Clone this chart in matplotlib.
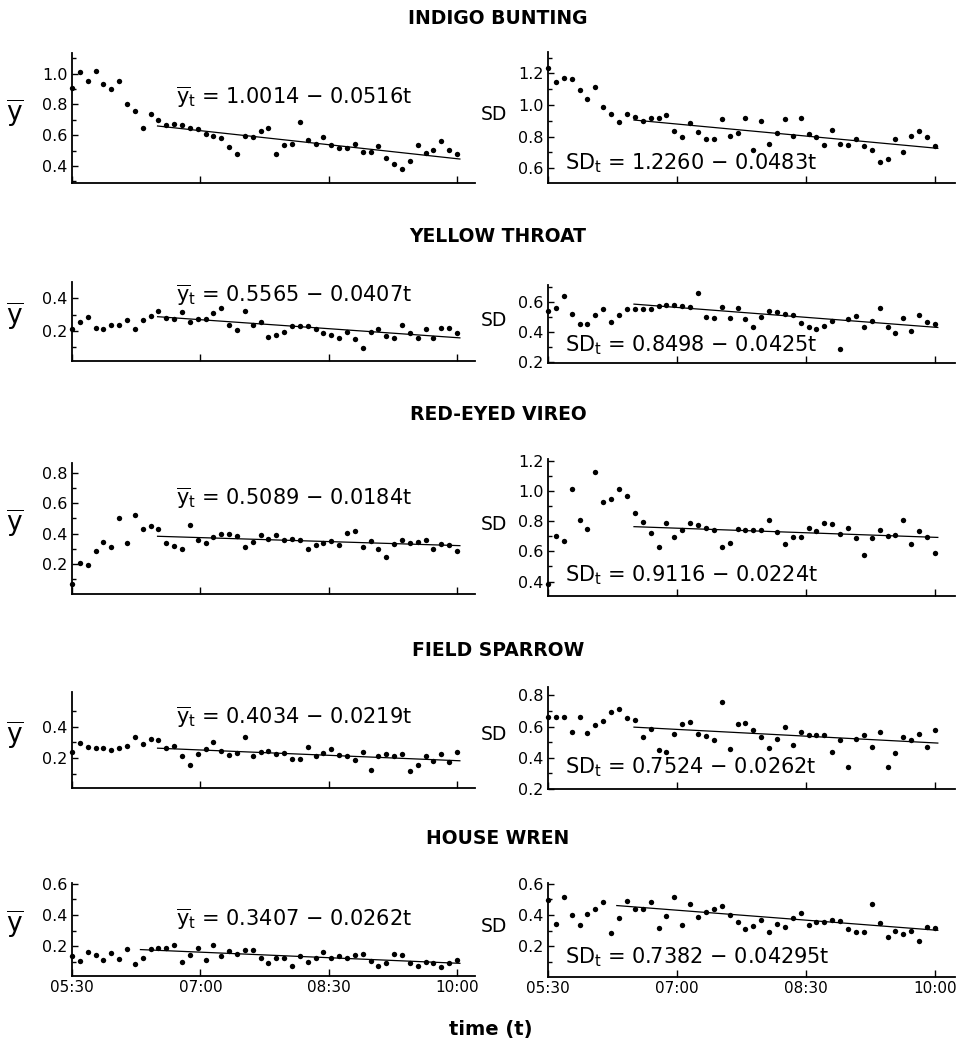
import numpy as np
import matplotlib.pyplot as plt

plt.rcParams['font.family'] = ['DejaVu Sans']
plt.rcParams['mathtext.fontset'] = 'dejavusans'
plt.rcParams['mathtext.default'] = 'regular'

W, H = 958, 1047

# minutes after 05:30 (50 samples between 05:30 and 10:00)
minutes = np.linspace(0, 270, 50)
tick_minutes = [0, 90, 180, 270]
tick_labels = ["05:30", "07:00", "08:30", "10:00"]

species = ["INDIGO BUNTING", "YELLOW THROAT", "RED-EYED VIREO",
           "FIELD SPARROW", "HOUSE WREN"]

indigo_mean = [0.91, 1.01, 0.955, 1.02, 0.935, 0.90, 0.955, 0.80, 0.755, 0.65,
               0.735, 0.70, 0.665, 0.675, 0.665, 0.65, 0.64, 0.605, 0.595, 0.585,
               0.525, 0.48, 0.595, 0.59, 0.63, 0.65, 0.475, 0.535, 0.545, 0.685,
               0.57, 0.545, 0.59, 0.535, 0.52, 0.515, 0.545, 0.49, 0.49, 0.53,
               0.45, 0.415, 0.38, 0.43, 0.535, 0.485, 0.505, 0.565, 0.505, 0.48]
indigo_sd = [1.236, 1.147, 1.168, 1.164, 1.095, 1.036, 1.112, 0.99, 0.94, 0.895,
             0.94, 0.925, 0.90, 0.92, 0.92, 0.937, 0.836, 0.796, 0.884, 0.827,
             0.783, 0.783, 0.91, 0.806, 0.825, 0.916, 0.716, 0.90, 0.754, 0.825,
             0.91, 0.806, 0.92, 0.817, 0.796, 0.747, 0.842, 0.752, 0.747, 0.783,
             0.743, 0.716, 0.642, 0.66, 0.783, 0.70, 0.804, 0.838, 0.80, 0.743]
yellow_mean = [0.21, 0.252, 0.287, 0.22, 0.21, 0.235, 0.235, 0.266, 0.214, 0.266,
               0.293, 0.324, 0.28, 0.272, 0.318, 0.252, 0.272, 0.272, 0.311, 0.338,
               0.239, 0.204, 0.324, 0.235, 0.256, 0.163, 0.173, 0.19, 0.229, 0.229,
               0.229, 0.214, 0.184, 0.173, 0.159, 0.19, 0.153, 0.097, 0.19, 0.21,
               0.169, 0.157, 0.239, 0.184, 0.159, 0.214, 0.157, 0.219, 0.219, 0.184]
yellow_sd = [0.54, 0.56, 0.638, 0.518, 0.451, 0.451, 0.511, 0.551, 0.462, 0.511,
             0.551, 0.551, 0.551, 0.549, 0.571, 0.578, 0.578, 0.571, 0.567, 0.66,
             0.50, 0.489, 0.562, 0.489, 0.56, 0.482, 0.433, 0.496, 0.538, 0.533,
             0.516, 0.511, 0.456, 0.433, 0.416, 0.438, 0.473, 0.289, 0.482, 0.507,
             0.433, 0.473, 0.56, 0.429, 0.389, 0.493, 0.404, 0.511, 0.462, 0.449]
vireo_mean = [0.067, 0.204, 0.193, 0.282, 0.344, 0.311, 0.504, 0.338, 0.522, 0.427,
              0.449, 0.433, 0.338, 0.316, 0.298, 0.456, 0.356, 0.338, 0.378, 0.40,
              0.40, 0.382, 0.311, 0.344, 0.393, 0.362, 0.389, 0.356, 0.367, 0.36,
              0.298, 0.327, 0.34, 0.349, 0.322, 0.404, 0.418, 0.311, 0.351, 0.298,
              0.244, 0.329, 0.36, 0.34, 0.344, 0.356, 0.30, 0.329, 0.327, 0.284]
vireo_sd = [0.385, 0.703, 0.67, 1.015, 0.809, 0.747, 1.125, 0.927, 0.949, 1.011,
            0.963, 0.851, 0.796, 0.721, 0.631, 0.785, 0.697, 0.743, 0.785, 0.776,
            0.754, 0.741, 0.631, 0.655, 0.747, 0.741, 0.741, 0.741, 0.809, 0.725,
            0.648, 0.692, 0.697, 0.754, 0.732, 0.785, 0.78, 0.714, 0.752, 0.686,
            0.576, 0.686, 0.743, 0.703, 0.708, 0.807, 0.648, 0.732, 0.692, 0.589]
sparrow_mean = [0.238, 0.295, 0.269, 0.267, 0.263, 0.253, 0.263, 0.28, 0.337, 0.291,
                0.32, 0.312, 0.267, 0.274, 0.215, 0.158, 0.227, 0.257, 0.305, 0.242,
                0.217, 0.232, 0.331, 0.215, 0.236, 0.242, 0.225, 0.232, 0.194, 0.194,
                0.269, 0.211, 0.232, 0.259, 0.221, 0.211, 0.185, 0.238, 0.126, 0.215,
                0.225, 0.211, 0.225, 0.12, 0.154, 0.215, 0.179, 0.227, 0.173, 0.238]
sparrow_sd = [0.664, 0.664, 0.664, 0.568, 0.664, 0.557, 0.611, 0.636, 0.696, 0.713,
              0.653, 0.643, 0.536, 0.583, 0.451, 0.44, 0.553, 0.617, 0.632, 0.553,
              0.54, 0.515, 0.755, 0.457, 0.615, 0.621, 0.579, 0.536, 0.462, 0.521,
              0.594, 0.483, 0.562, 0.547, 0.547, 0.547, 0.436, 0.511, 0.34, 0.519,
              0.543, 0.466, 0.564, 0.338, 0.43, 0.536, 0.515, 0.553, 0.468, 0.579]
wren_mean = [0.139, 0.107, 0.164, 0.143, 0.112, 0.154, 0.116, 0.185, 0.084, 0.122,
             0.181, 0.192, 0.192, 0.211, 0.097, 0.143, 0.192, 0.112, 0.211, 0.139,
             0.168, 0.149, 0.175, 0.179, 0.126, 0.091, 0.126, 0.122, 0.076, 0.139,
             0.101, 0.122, 0.164, 0.122, 0.137, 0.122, 0.143, 0.149, 0.107, 0.076,
             0.091, 0.149, 0.143, 0.095, 0.074, 0.101, 0.091, 0.069, 0.095, 0.112]
wren_sd = [0.495, 0.341, 0.516, 0.398, 0.335, 0.408, 0.436, 0.484, 0.284, 0.379,
           0.493, 0.442, 0.442, 0.482, 0.32, 0.394, 0.516, 0.335, 0.472, 0.387,
           0.419, 0.436, 0.461, 0.40, 0.358, 0.314, 0.331, 0.366, 0.295, 0.341,
           0.324, 0.383, 0.415, 0.335, 0.358, 0.358, 0.366, 0.362, 0.314, 0.293,
           0.293, 0.474, 0.347, 0.261, 0.299, 0.278, 0.299, 0.236, 0.326, 0.32]

# fitted trend lines: [start, end] in minutes and values
fit_t = [60, 272]
fit_t_wren = [48, 272]
indigo_mean_fit = [0.66, 0.445]
indigo_sd_fit = [0.905, 0.726]
yellow_mean_fit = [0.287, 0.157]
yellow_sd_fit = [0.584, 0.429]
vireo_mean_fit = [0.382, 0.32]
vireo_sd_fit = [0.763, 0.692]
sparrow_mean_fit = [0.263, 0.183]
sparrow_sd_fit = [0.596, 0.494]
wren_mean_fit = [0.179, 0.091]
wren_sd_fit = [0.461, 0.303]

mean_eqs = ["1.0014 \u2212 0.0516t", "0.5565 \u2212 0.0407t", "0.5089 \u2212 0.0184t",
            "0.4034 \u2212 0.0219t", "0.3407 \u2212 0.0262t"]
sd_eqs = ["1.2260 \u2212 0.0483t", "0.8498 \u2212 0.0425t", "0.9116 \u2212 0.0224t",
          "0.7524 \u2212 0.0262t", "0.7382 \u2212 0.04295t"]

means = [indigo_mean, yellow_mean, vireo_mean, sparrow_mean, wren_mean]
sds = [indigo_sd, yellow_sd, vireo_sd, sparrow_sd, wren_sd]
mean_fits = [indigo_mean_fit, yellow_mean_fit, vireo_mean_fit, sparrow_mean_fit, wren_mean_fit]
sd_fits = [indigo_sd_fit, yellow_sd_fit, vireo_sd_fit, sparrow_sd_fit, wren_sd_fit]
fit_times = [fit_t, fit_t, fit_t, fit_t, fit_t_wren]

# layout (pixels): rows of (top, bottom) for left and right panels
rows_left = [(53, 183), (282, 361), (463, 594), (692, 788), (883, 976)]
rows_right = [(52, 183), (285, 363), (459, 596), (687, 789), (883, 977)]
ylims_left = [(0.289, 1.135), (0.015, 0.50), (0.0, 0.867), (0.01, 0.62), (0.01, 0.605)]
ylims_right = [(0.507, 1.335), (0.193, 0.711), (0.305, 1.21), (0.2, 0.853), (0.005, 0.605)]
yticks_left = [[0.4, 0.6, 0.8, 1.0], [0.2, 0.4], [0.2, 0.4, 0.6, 0.8], [0.2, 0.4], [0.2, 0.4, 0.6]]
yticks_right = [[0.6, 0.8, 1.0, 1.2], [0.2, 0.4, 0.6], [0.4, 0.6, 0.8, 1.0, 1.2],
                [0.2, 0.4, 0.6, 0.8], [0.2, 0.4, 0.6]]
title_y = [18, 236, 415, 650, 838]
mean_text_y = [0.85, 0.42, 0.635, 0.46, 0.37]
sd_text_y = [0.633, 0.311, 0.443, 0.34, 0.13]

fig = plt.figure(figsize=(W / 100, H / 100), dpi=100)


def make_axes(x0, x1, top, bottom):
    return fig.add_axes([x0 / W, 1 - bottom / H, (x1 - x0) / W, (bottom - top) / H])


def style(ax, ylim, yticks, xmax, show_x):
    ax.set_xlim(0, xmax)
    ax.set_ylim(*ylim)
    ax.spines['top'].set_visible(False)
    ax.spines['right'].set_visible(False)
    for s in ['left', 'bottom']:
        ax.spines[s].set_linewidth(1.3)
    ax.set_yticks(yticks)
    ax.set_yticklabels([f"{v:.1f}" for v in yticks], fontsize=11.5)
    minor = [v + 0.1 for v in yticks if v + 0.1 < ylim[1]]
    minor += [yticks[0] - 0.1] if yticks[0] - 0.1 > ylim[0] else []
    ax.set_yticks(minor, minor=True)
    ax.set_xticks(tick_minutes)
    if show_x:
        ax.set_xticklabels(tick_labels, fontsize=11)
    else:
        ax.set_xticklabels([])
    ax.tick_params(direction='in', length=4, width=1, pad=3)
    ax.tick_params(which='minor', direction='in', length=3, width=1)
    ax.tick_params(axis='x', length=5)
    ax.patch.set_alpha(0)


for i in range(5):
    last = i == 4
    # mean panel
    t, b = rows_left[i]
    ax = make_axes(72, 475, t, b)
    ax.scatter(minutes, means[i], s=15, color='black', zorder=3, clip_on=False, linewidths=0)
    ax.plot(fit_times[i], mean_fits[i], color='black', lw=0.9)
    style(ax, ylims_left[i], yticks_left[i], 282.6, last)
    ax.text(73, mean_text_y[i], r'$\overline{y}_t$ = ' + mean_eqs[i],
            fontsize=15, va='center', ha='left')
    fig.text(15 / W, 1 - ((t + b) / 2 - 5) / H, r'$\overline{y}$', fontsize=19,
             ha='center', va='center')

    # SD panel
    t, b = rows_right[i]
    ax = make_axes(548, 955, t, b)
    ax.scatter(minutes, sds[i], s=15, color='black', zorder=3, clip_on=False, linewidths=0)
    ax.plot(fit_times[i], sd_fits[i], color='black', lw=0.9)
    style(ax, ylims_right[i], yticks_right[i], 284, last)
    ax.text(12, sd_text_y[i], r'SD$_t$ = ' + sd_eqs[i],
            fontsize=15, va='center', ha='left')
    fig.text(494 / W, 1 - ((t + b) / 2 - 3) / H, 'SD', fontsize=13.5,
             ha='center', va='center')

    fig.text(498 / W, 1 - title_y[i] / H, species[i], fontsize=13.5,
             fontweight='bold', ha='center', va='center')

fig.text(491 / W, 1 - 1030 / H, 'time (t)', fontsize=14, fontweight='bold',
         ha='center', va='center')

fig.savefig('out.png', dpi=100)
